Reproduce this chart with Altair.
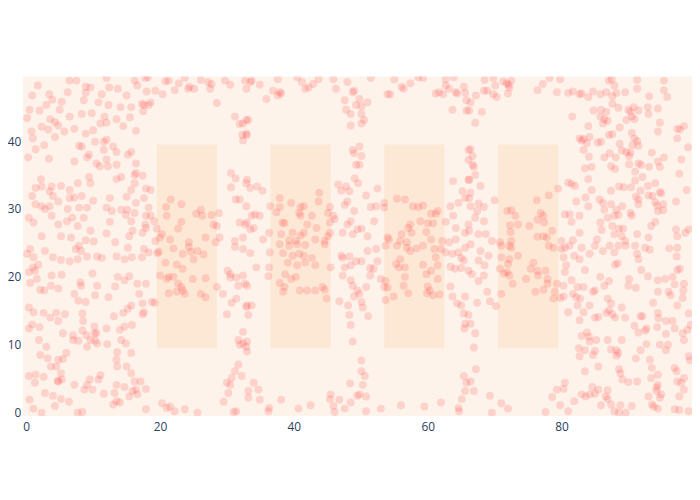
import altair as alt
import pandas as pd

# shaded rectangles
rect_x0 = [19.5, 36.5, 53.5, 70.5]
rect_x1 = [28.5, 45.5, 62.5, 79.5]
rect_y0 = [9.5, 9.5, 9.5, 9.5]
rect_y1 = [39.5, 39.5, 39.5, 39.5]

x_ticks = [0, 20, 40, 60, 80]
y_ticks = [0, 10, 20, 30, 40]

# scatter points
pts_a_top = [
    (1.75, 48.2), (6.46, 48.9), (7.5, 48.9), (8.9, 48.0), (9.6, 47.9), (12.0, 49.3), (16.2, 48.9),
    (0.9, 46.7), (3.45, 46.9), (6.2, 47.2), (8.9, 47.1), (11.3, 46.9), (12.4, 47.9), (13.7, 47.7),
    (15.0, 46.7), (3.9, 46.1), (5.3, 45.8), (8.6, 46.0), (3.0, 45.3), (12.3, 45.3), (10.8, 45.7),
    (14.1, 45.0), (15.7, 45.0), (0.5, 44.6), (2.0, 44.5), (5.0, 44.6), (0.15, 43.4), (6.5, 43.6),
    (8.3, 44.0), (9.8, 44.1), (11.7, 43.6), (3.6, 43.2), (4.3, 42.8), (13.5, 43.2), (15.5, 43.5),
    (11.1, 42.6), (12.0, 42.7), (14.5, 42.2), (2.3, 42.1), (3.3, 41.7), (4.8, 42.3), (5.7, 41.4),
    (7.2, 41.8), (0.8, 41.4), (1.0, 40.4), (4.3, 40.6), (8.9, 41.1), (10.0, 41.6), (11.6, 39.9),
    (12.0, 40.2), (13.0, 39.2), (7.9, 39.3), (8.3, 39.2), (10.3, 39.9), (9.4, 38.0), (11.6, 38.7),
    (1.4, 38.8), (2.7, 39.4), (13.5, 38.4), (15.7, 38.4), (0.3, 37.6), (3.4, 37.4), (7.2, 37.0),
    (9.1, 37.6), (10.5, 36.7), (11.0, 36.3), (12.2, 36.3), (12.0, 37.3), (13.5, 36.5), (15.2, 38.0),
    (2.2, 34.4), (9.4, 34.7), (9.6, 33.8), (7.7, 33.8), (13.5, 34.4), (14.2, 34.7), (16.2, 35.0),
    (1.4, 33.1), (2.3, 33.3), (3.8, 33.3), (5.2, 33.4), (6.5, 32.8), (3.5, 32.6), (0.9, 31.9),
    (4.0, 31.9), (6.5, 31.6), (7.2, 31.7), (8.3, 31.9), (10.0, 31.2), (12.5, 31.6), (15.0, 31.8),
    (15.7, 32.8), (16.2, 33.8), (1.4, 30.7), (2.3, 30.4), (2.8, 30.0), (3.5, 30.4), (4.8, 31.1),
    (6.2, 30.0), (7.9, 30.2), (9.1, 30.2), (12.0, 30.2), (12.8, 29.7), (14.2, 29.9), (15.1, 29.9),
    (16.2, 29.4), (0.4, 28.7), (3.8, 29.0), (6.9, 28.7), (8.6, 28.7), (12.5, 28.1), (15.7, 28.2),
    (14.9, 29.1), (1.1, 28.0), (4.8, 27.7), (6.1, 28.2), (7.7, 27.5), (9.6, 26.8), (12.0, 26.4),
    (2.3, 26.0), (5.2, 26.0), (6.7, 25.8), (8.9, 25.4), (10.1, 25.2), (13.3, 25.1), (15.4, 26.0),
    (15.9, 26.8),
]

pts_a_bottom = [
    (0.15, 23.4), (0.6, 24.1), (1.1, 22.9), (2.8, 23.8), (4.0, 22.9), (5.2, 22.5), (6.5, 22.3),
    (7.7, 22.6), (7.4, 24.1), (8.2, 23.8), (9.1, 23.0), (7.9, 24.6), (10.6, 23.0), (11.3, 22.8),
    (13.5, 23.0), (14.7, 22.6), (15.8, 22.9), (15.2, 24.3), (1.0, 21.4), (1.8, 21.8), (0.4, 20.7),
    (1.3, 20.9), (1.6, 19.7), (0.6, 19.1), (2.1, 18.1), (2.7, 18.0), (3.8, 20.2), (3.7, 18.7),
    (4.8, 18.3), (5.3, 20.3), (8.1, 19.2), (8.2, 18.7), (9.9, 20.5), (10.6, 18.7), (12.3, 17.0),
    (10.3, 17.3), (7.2, 17.5), (7.8, 16.5), (8.9, 16.3), (13.7, 20.0), (14.7, 19.5), (15.4, 20.1),
    (13.3, 18.6), (0.4, 15.5), (1.1, 14.8), (2.6, 14.7), (3.6, 14.0), (4.5, 14.7), (4.8, 13.5),
    (5.8, 14.5), (8.4, 14.6), (8.5, 13.5), (10.2, 12.7), (10.5, 11.7), (12.0, 12.4), (13.1, 14.2),
    (14.5, 14.7), (15.7, 15.8), (15.2, 15.3), (14.7, 12.7), (15.8, 12.9), (0.4, 12.4), (0.9, 13.0),
    (2.0, 12.6), (1.9, 10.7), (3.0, 9.7), (5.5, 11.7), (7.0, 11.4), (7.0, 10.7), (7.8, 10.6),
    (8.4, 12.1), (9.0, 11.4), (9.1, 9.7), (9.6, 10.7), (10.2, 11.7), (10.3, 10.6), (10.6, 10.2),
    (12.1, 10.1), (14.0, 12.2), (14.2, 10.7), (14.9, 10.2), (15.7, 8.8), (2.1, 8.5), (3.2, 8.0),
    (4.8, 7.8), (6.0, 8.8), (5.5, 7.9), (3.7, 6.8), (4.5, 6.8), (5.2, 5.8), (5.3, 4.9), (4.7, 4.7),
    (13.6, 8.9), (13.5, 7.8), (13.6, 6.8), (15.0, 6.8), (0.4, 5.4), (1.4, 5.6), (1.3, 4.4),
    (2.6, 5.3), (2.8, 2.9), (4.0, 2.5), (5.2, 2.0), (4.8, 4.6), (7.2, 4.1), (8.7, 3.4), (9.5, 4.9),
    (9.1, 4.1), (9.9, 3.4), (10.8, 4.9), (11.1, 5.5), (11.6, 2.8), (13.2, 2.9), (13.5, 4.1),
    (14.7, 3.8), (15.9, 3.2), (16.2, 4.6), (15.7, 5.8), (0.5, 1.9), (1.1, 0.6), (2.3, 0.0),
    (4.3, 1.0), (6.4, 1.6), (7.7, 0.0), (8.4, 0.1), (13.0, 1.2), (13.5, 1.7), (14.0, 1.5),
    (15.4, 2.4),
]

pts_b_top = [
    (16.6, 48.2), (17.8, 49.3), (18.2, 49.4), (20.8, 48.8), (21.3, 48.9), (22.8, 48.5), (23.7, 49.3),
    (24.4, 48.0), (24.2, 47.7), (25.1, 47.7), (26.1, 49.0), (27.2, 48.7), (27.7, 48.4), (27.5, 47.7),
    (29.7, 48.9), (30.5, 48.3), (32.7, 48.9), (32.9, 47.7), (18.0, 47.3), (19.3, 47.4), (20.4, 46.9),
    (22.2, 47.5), (17.3, 45.5), (17.6, 45.3), (18.6, 45.7), (18.3, 45.3), (17.5, 44.4), (28.5, 45.6),
    (31.2, 43.6), (31.9, 42.5), (32.4, 42.6), (32.9, 43.1), (32.3, 40.9), (32.4, 40.1), (32.9, 41.1),
    (16.4, 41.5), (16.4, 36.7), (16.4, 35.3), (17.4, 34.9), (17.9, 33.0), (18.6, 32.8), (17.6, 31.6),
    (16.4, 30.9), (18.3, 30.2), (18.6, 29.0), (17.9, 29.0), (19.1, 28.2), (17.8, 27.7), (17.9, 27.2),
    (19.5, 27.1), (17.4, 26.5), (20.3, 26.3), (20.0, 25.8), (21.5, 25.5), (19.3, 25.3), (21.6, 31.4),
    (20.9, 30.3), (23.2, 30.7), (21.0, 29.0), (26.1, 29.9), (25.4, 29.3), (26.3, 29.0), (27.7, 29.1),
    (28.8, 29.4), (23.2, 28.1), (22.7, 27.1), (28.0, 27.7), (28.5, 27.5), (26.8, 25.8), (28.9, 25.8),
    (24.3, 25.1), (28.3, 25.1), (30.6, 35.3), (31.3, 34.5), (30.6, 33.2), (32.9, 33.8), (31.3, 31.4),
    (31.9, 31.4), (32.9, 30.4), (31.9, 28.0), (32.7, 27.7), (31.2, 25.3), (32.4, 25.8),
]

pts_b_bottom = [
    (17.3, 22.9), (17.6, 24.1), (18.3, 23.6), (19.6, 23.5), (19.8, 23.7), (22.0, 24.2), (20.8, 22.1),
    (22.5, 21.8), (23.4, 21.2), (23.4, 23.4), (24.3, 24.4), (24.6, 23.7), (25.0, 22.6), (25.6, 23.8),
    (26.5, 23.3), (20.0, 20.2), (21.3, 20.0), (22.0, 20.0), (21.0, 19.7), (22.7, 19.0), (23.2, 18.5),
    (23.7, 17.5), (23.4, 18.0), (24.9, 19.7), (26.8, 19.8), (21.3, 17.6), (22.5, 17.8), (26.1, 17.5),
    (26.8, 17.0), (16.6, 19.0), (17.9, 19.0), (16.9, 17.5), (17.4, 16.1), (17.6, 14.8), (17.4, 14.5),
    (18.8, 16.3), (19.2, 16.2), (31.2, 24.4), (32.4, 24.1), (30.1, 20.9), (30.5, 20.4), (30.5, 19.9),
    (31.4, 19.9), (31.7, 18.7), (32.7, 19.0), (32.4, 20.2), (28.5, 18.5), (29.4, 17.5), (31.4, 16.8),
    (30.7, 16.2), (30.0, 14.5), (32.9, 15.6), (32.4, 11.9), (31.7, 10.7), (31.9, 10.0), (32.4, 10.2),
    (32.9, 9.7), (31.7, 7.1), (31.2, 6.1), (32.2, 5.4), (30.7, 5.1), (30.0, 4.4), (30.5, 4.1),
    (30.2, 2.9), (29.5, 1.6), (31.4, 0.2), (31.0, 0.1), (17.1, 4.6), (17.9, 3.5), (16.4, 3.4),
    (16.6, 2.7), (17.9, 0.5), (20.3, 1.4), (21.0, 0.7), (21.5, 0.9), (22.2, 0.2), (23.7, 0.5),
    (25.6, 0.0),
]

pts_c_top = [
    (33.5, 48.7), (33.7, 48.9), (34.9, 48.3), (37.6, 49.1), (37.9, 47.2), (37.6, 46.7), (38.1, 47.0),
    (36.9, 47.4), (35.9, 46.2), (40.5, 49.4), (41.2, 48.7), (41.7, 47.7), (42.2, 47.9), (42.9, 48.4),
    (43.7, 49.1), (45.9, 49.1), (46.3, 47.7), (48.0, 48.7), (48.8, 47.2), (49.0, 47.4), (47.6, 46.0),
    (47.8, 44.6), (48.5, 44.0), (49.3, 45.3), (48.5, 42.3), (33.2, 43.1), (33.0, 40.9), (33.0, 34.3),
    (33.5, 33.1), (34.5, 33.3), (35.3, 32.7), (48.8, 38.7), (49.0, 38.2), (49.3, 36.5), (49.1, 34.5),
    (46.6, 33.6), (47.1, 32.7), (47.8, 33.3), (48.3, 32.6), (48.0, 31.1), (47.6, 30.6), (49.0, 29.7),
    (48.0, 27.7), (49.5, 27.0), (48.5, 28.2), (48.8, 26.3), (47.3, 26.5), (37.9, 31.6), (36.5, 30.4),
    (37.9, 30.3), (37.4, 29.5), (39.6, 30.9), (41.0, 30.3), (41.5, 30.4), (40.8, 29.4), (41.0, 29.0),
    (42.7, 29.0), (43.8, 32.4), (43.7, 31.1), (45.4, 30.3), (45.1, 29.4), (45.9, 29.0), (46.1, 28.5),
    (45.4, 28.0), (42.0, 27.7), (38.3, 28.0), (38.6, 27.9), (43.4, 27.2), (41.5, 26.5), (41.0, 26.1),
    (39.8, 26.5), (38.1, 26.3), (39.3, 25.4), (40.3, 25.3), (43.2, 25.5), (45.4, 26.5), (45.1, 26.0),
    (44.6, 25.3), (33.7, 29.0), (34.2, 29.2), (34.9, 29.0), (33.0, 28.0), (34.0, 27.2), (33.5, 27.0),
    (36.3, 26.5), (35.4, 25.5),
]

pts_c_bottom = [
    (37.9, 24.8), (39.3, 24.6), (40.5, 24.8), (41.7, 24.7), (44.6, 24.8), (38.4, 23.5), (39.8, 23.1),
    (40.8, 23.4), (41.5, 23.1), (42.7, 22.8), (39.1, 22.1), (40.5, 21.7), (41.7, 22.1), (43.2, 21.7),
    (38.7, 20.4), (39.6, 19.7), (40.3, 20.0), (37.9, 19.1), (38.6, 18.5), (38.4, 17.8), (40.9, 18.0),
    (42.0, 18.0), (43.2, 18.0), (44.3, 18.5), (44.6, 18.1), (44.9, 16.8), (33.5, 23.5), (34.4, 21.4),
    (36.3, 21.4), (36.2, 20.1), (36.4, 23.6), (33.0, 18.7), (33.7, 15.8), (33.0, 15.8), (33.2, 14.4),
    (33.0, 10.5), (33.0, 9.0), (34.0, 4.4), (34.7, 3.4), (34.9, 1.9), (33.2, 3.2), (33.2, 2.2),
    (36.3, 0.7), (36.2, 0.2), (38.1, 1.9), (40.7, 0.6), (42.5, 1.1), (45.5, 21.4), (47.1, 23.1),
    (47.3, 22.8), (48.3, 23.0), (47.6, 21.4), (48.5, 21.7), (49.3, 22.3), (47.3, 20.2), (48.5, 19.5),
    (48.8, 18.7), (49.5, 18.0), (49.0, 17.1), (46.8, 16.4), (48.1, 15.8), (48.3, 14.4), (48.5, 12.9),
    (48.8, 10.5), (48.4, 4.3), (49.5, 2.5), (48.5, 1.5), (45.5, 2.7), (45.4, 2.0), (46.8, 1.9),
    (45.9, 1.0), (46.1, 0.1), (47.6, 0.6),
]

pts_d_top = [
    (51.5, 49.3), (55.0, 49.1), (56.1, 48.0), (56.4, 47.7), (57.4, 48.5), (58.6, 49.4), (59.3, 49.3),
    (62.7, 49.1), (63.9, 49.4), (54.0, 46.9), (54.4, 46.9), (61.2, 47.0), (61.7, 47.2), (62.3, 46.9),
    (62.7, 48.2), (63.2, 47.7), (64.2, 47.2), (64.4, 47.0), (65.4, 48.0), (65.6, 47.1), (63.7, 44.6),
    (65.8, 44.5), (65.8, 46.0), (49.8, 46.2), (50.1, 45.1), (51.0, 45.7), (50.1, 44.0), (50.5, 43.1),
    (50.1, 42.6), (49.8, 39.2), (50.1, 37.8), (49.8, 36.5), (49.6, 33.8), (66.1, 38.7), (66.1, 37.2),
    (63.8, 34.1), (66.1, 34.3), (65.2, 32.6), (65.6, 31.6), (64.6, 30.9), (63.4, 30.4), (63.8, 29.0),
    (64.2, 27.2), (65.6, 26.5), (66.1, 27.7), (50.8, 32.0), (52.5, 33.0), (51.5, 30.3), (52.3, 30.4),
    (53.5, 30.9), (53.5, 30.2), (52.0, 28.2), (51.0, 26.0), (50.1, 27.1), (55.4, 31.5), (56.6, 31.4),
    (57.8, 30.4), (58.6, 30.3), (59.3, 30.5), (60.5, 29.3), (61.2, 29.3), (61.5, 29.7), (62.7, 28.1),
    (58.9, 28.2), (60.0, 27.9), (60.8, 27.9), (57.4, 27.7), (57.1, 27.2), (57.6, 26.5), (56.1, 26.3),
    (59.8, 26.6), (54.0, 25.8), (54.2, 25.5), (55.9, 25.3), (56.9, 25.1), (60.5, 25.5), (62.2, 25.3),
    (63.2, 25.1), (64.2, 25.5),
]

pts_d_bottom = [
    (53.7, 24.6), (55.4, 24.6), (56.9, 24.3), (57.4, 23.8), (58.3, 24.2), (59.3, 24.6), (61.0, 24.1),
    (62.0, 24.1), (61.2, 22.9), (61.5, 21.7), (55.9, 22.6), (55.3, 21.9), (55.7, 21.4), (56.6, 21.4),
    (59.3, 21.8), (59.8, 20.4), (60.5, 20.9), (61.5, 19.7), (56.6, 20.0), (56.4, 18.7), (57.1, 17.6),
    (60.0, 18.6), (60.3, 18.0), (60.8, 17.3), (59.9, 17.6), (61.8, 17.4), (53.7, 19.4), (53.5, 18.5),
    (54.0, 18.4), (53.0, 19.7), (54.9, 17.1), (53.7, 16.6), (50.1, 22.3), (52.5, 22.3), (51.4, 21.3),
    (51.9, 21.2), (51.4, 20.2), (52.3, 24.1), (51.0, 23.8), (50.8, 18.5), (49.8, 17.5), (50.1, 16.3),
    (50.3, 15.5), (51.1, 14.2), (62.7, 23.6), (63.7, 23.4), (64.6, 23.6), (65.6, 24.3), (65.0, 22.8),
    (63.4, 21.5), (64.1, 21.2), (65.0, 21.3), (65.4, 22.4), (66.1, 20.9), (63.4, 18.6), (63.7, 17.1),
    (64.4, 16.1), (65.0, 15.8), (65.6, 17.1), (65.4, 14.6), (66.1, 14.4), (65.6, 13.1), (65.5, 12.4),
    (50.1, 7.7), (50.1, 6.1), (50.6, 5.4), (50.3, 4.1), (49.8, 2.7), (50.8, 2.4), (50.8, 0.2),
    (53.0, 0.6), (56.0, 1.1), (59.5, 0.9), (62.0, 1.5), (65.4, 5.4), (65.8, 4.4), (65.6, 3.2),
    (65.1, 2.0), (64.6, 0.7), (64.7, 0.2),
]

pts_e_top = [
    (68.5, 49.0), (69.8, 49.3), (70.1, 48.2), (71.3, 48.8), (71.8, 48.5), (72.1, 48.3), (72.5, 48.9),
    (72.2, 47.9), (72.0, 47.0), (68.4, 47.4), (68.9, 47.4), (67.2, 46.7), (69.8, 46.9), (70.3, 46.5),
    (76.4, 47.5), (77.2, 48.4), (78.2, 49.3), (79.3, 47.2), (79.8, 49.1), (81.0, 47.1), (81.7, 47.3),
    (82.7, 46.9), (66.4, 45.7), (66.2, 44.5), (68.1, 44.3), (67.1, 42.7), (81.6, 43.6), (82.7, 40.4),
    (66.4, 38.8), (66.7, 37.8), (66.7, 36.5), (66.9, 36.2), (67.1, 35.0), (66.2, 34.3), (67.9, 33.4),
    (66.4, 32.4), (66.2, 31.6), (66.4, 30.4), (67.6, 30.8), (68.4, 30.3), (67.4, 29.7), (67.1, 28.7),
    (68.4, 28.2), (66.2, 26.8), (67.6, 26.3), (68.7, 26.3), (69.6, 25.3), (70.0, 31.3), (76.3, 31.3),
    (78.1, 32.0), (79.5, 33.0), (71.9, 29.7), (72.5, 29.8), (73.1, 29.0), (76.9, 29.4), (77.3, 29.0),
    (76.4, 28.4), (77.4, 28.0), (73.5, 27.7), (72.3, 27.6), (72.4, 26.6), (75.2, 27.5), (72.5, 25.3),
    (76.4, 25.9), (77.3, 26.0), (78.6, 26.8), (77.8, 25.8), (70.8, 25.1), (81.0, 33.9), (81.5, 33.7),
    (82.0, 33.4), (82.2, 31.1), (80.5, 29.2), (81.2, 29.2), (81.5, 28.1), (82.7, 29.0), (80.0, 25.3),
    (81.7, 25.4), (82.7, 26.5),
]

pts_e_bottom = [
    (71.0, 24.6), (72.2, 24.6), (72.5, 24.3), (71.0, 22.9), (72.2, 22.6), (72.0, 21.9), (73.5, 23.1),
    (70.8, 21.2), (71.4, 20.5), (71.9, 20.7), (72.2, 20.2), (72.7, 19.0), (74.7, 19.7), (75.8, 22.1),
    (75.4, 21.2), (76.4, 20.9), (76.5, 20.2), (77.6, 20.9), (77.9, 19.7), (77.9, 19.0), (79.3, 19.0),
    (76.1, 17.8), (77.3, 18.1), (78.8, 16.8), (79.0, 17.8), (78.1, 24.6), (78.8, 24.3), (66.4, 24.8),
    (67.9, 23.8), (69.1, 23.1), (67.6, 22.4), (68.5, 21.7), (66.6, 20.4), (68.4, 20.2), (67.6, 19.4),
    (68.9, 17.8), (69.3, 16.4), (67.4, 16.2), (70.2, 15.7), (71.0, 17.5), (66.4, 13.1), (67.1, 11.7),
    (66.9, 9.6), (67.2, 6.4), (66.4, 4.6), (66.9, 3.2), (80.0, 24.1), (80.5, 24.3), (81.2, 24.6),
    (80.3, 22.9), (80.7, 21.7), (81.9, 23.1), (82.7, 22.6), (80.5, 20.7), (81.5, 19.5), (80.3, 18.7),
    (82.4, 18.5), (81.7, 17.5), (80.3, 17.1), (79.8, 16.9), (82.2, 17.0), (82.4, 15.8), (82.7, 13.6),
    (81.0, 14.8), (82.6, 9.5), (82.7, 8.3), (80.5, 4.4), (80.3, 3.5), (79.3, 3.4), (78.6, 2.3),
    (79.8, 1.1), (81.0, 0.2), (81.9, 1.7), (69.3, 2.5), (71.0, 1.4), (72.0, 0.6), (69.6, 0.0),
    (77.6, 0.1),
]

pts_f_top = [
    (87.05, 48.9), (87.5, 49.1), (91.3, 49.0), (95.3, 48.9), (83.0, 47.0), (84.0, 46.5), (84.7, 47.3),
    (85.8, 46.9), (86.7, 47.2), (87.9, 48.2), (88.2, 47.1), (87.6, 46.6), (89.5, 47.2), (91.3, 47.7),
    (93.1, 46.6), (95.3, 47.5), (95.8, 46.5), (84.8, 44.5), (85.9, 44.6), (86.7, 44.3), (86.4, 43.2),
    (86.2, 42.6), (86.9, 43.0), (85.8, 43.6), (87.6, 45.5), (88.5, 44.9), (90.0, 44.6), (90.3, 44.3),
    (90.8, 45.0), (90.5, 43.6), (91.5, 44.5), (92.9, 45.0), (93.0, 44.0), (94.4, 44.8), (89.7, 43.1),
    (90.9, 43.2), (94.7, 42.7), (94.4, 41.4), (97.3, 41.8), (97.7, 41.7), (98.3, 42.2), (97.3, 40.4),
    (98.9, 39.1), (84.0, 42.2), (83.0, 40.1), (83.3, 40.3), (84.2, 40.6), (83.8, 39.7), (85.4, 39.8),
    (85.9, 39.9), (87.1, 40.9), (87.6, 41.0), (88.7, 42.0), (88.7, 39.6), (90.5, 41.2), (90.9, 40.4),
    (91.3, 40.0), (90.6, 39.4), (91.5, 39.3), (90.3, 38.3), (89.0, 38.6), (89.7, 38.4), (90.1, 37.8),
    (88.1, 37.6), (86.4, 37.6), (87.2, 38.2), (83.3, 38.7), (84.1, 37.7), (93.5, 38.3), (95.3, 37.6),
    (94.4, 37.0), (94.7, 36.2), (93.1, 36.2), (91.5, 36.7), (91.9, 36.5), (91.0, 35.5), (91.0, 34.2),
    (92.1, 34.7), (90.1, 36.6), (87.4, 36.3), (88.0, 35.9), (83.5, 36.0), (84.5, 36.2), (84.0, 34.4),
    (84.5, 32.8), (87.4, 32.7), (88.6, 33.3), (89.3, 33.2), (90.4, 33.2), (91.8, 32.7), (92.9, 33.4),
    (94.0, 33.8), (93.6, 31.9), (94.7, 32.5), (94.9, 32.3), (97.9, 37.3), (97.6, 35.2), (98.7, 32.8),
    (97.1, 31.1), (83.6, 31.7), (84.0, 30.4), (85.7, 31.4), (86.2, 30.9), (86.4, 29.9), (87.4, 30.7),
    (88.2, 29.9), (89.1, 30.4), (88.5, 29.1), (87.9, 29.0), (86.9, 28.7), (90.3, 29.4), (91.1, 31.8),
    (91.5, 31.4), (91.5, 30.7), (93.0, 32.0), (94.0, 31.0), (94.3, 30.5), (95.2, 30.7), (94.4, 29.7),
    (95.2, 29.8), (93.4, 27.5), (94.0, 28.1), (90.5, 29.0), (85.8, 28.0), (86.0, 26.9), (87.6, 27.5),
    (87.9, 26.3), (88.6, 27.1), (89.2, 27.1), (89.0, 26.0), (89.5, 25.3), (91.3, 26.3), (93.0, 25.8),
    (85.3, 25.5), (97.1, 27.0), (97.3, 26.0), (98.5, 26.5), (99.0, 27.0),
]

pts_f_bottom = [
    (83.0, 24.3), (84.2, 23.4), (85.0, 24.6), (86.2, 23.8), (87.2, 24.6), (87.9, 23.6), (88.5, 24.6),
    (89.6, 24.6), (91.0, 24.6), (91.3, 23.4), (91.5, 22.6), (92.5, 24.3), (93.2, 24.0), (96.1, 24.2),
    (97.3, 24.3), (97.2, 23.0), (88.0, 21.8), (88.4, 22.0), (83.5, 21.0), (91.9, 21.0), (92.9, 20.1),
    (94.4, 19.5), (95.5, 19.7), (96.6, 20.0), (97.3, 21.0), (97.7, 21.2), (96.9, 18.9), (98.3, 19.0),
    (98.2, 18.0), (85.8, 20.0), (86.4, 18.7), (87.1, 19.4), (90.1, 19.7), (90.0, 18.7), (91.1, 18.4),
    (85.0, 18.0), (84.7, 17.8), (83.3, 18.5), (82.8, 16.8), (94.4, 17.8), (96.0, 17.8), (96.3, 17.3),
    (98.1, 16.9), (97.3, 15.8), (93.7, 16.2), (86.9, 16.8), (87.4, 16.1), (89.0, 15.5), (87.1, 15.1),
    (86.7, 14.7), (87.6, 14.5), (88.0, 14.0), (89.5, 14.0), (84.2, 15.8), (83.3, 14.8), (85.0, 14.0),
    (85.5, 14.1), (91.8, 14.2), (92.1, 14.2), (94.4, 14.7), (94.5, 13.9), (95.6, 13.5), (96.6, 13.5),
    (96.9, 12.4), (98.1, 11.7), (98.3, 10.7), (99.0, 14.6), (98.8, 12.2), (99.3, 12.9), (90.9, 12.8),
    (91.5, 11.8), (92.5, 12.1), (92.7, 12.4), (94.3, 12.6), (95.6, 11.6), (83.8, 11.8), (83.0, 11.3),
    (84.1, 11.2), (84.2, 10.5), (85.2, 10.7), (83.5, 9.2), (85.0, 9.1), (84.7, 8.5), (86.9, 10.7),
    (89.0, 10.7), (87.4, 9.3), (88.2, 9.2), (88.2, 8.4), (88.5, 8.8), (91.8, 9.2), (92.7, 10.1),
    (94.7, 10.0), (95.9, 10.0), (95.6, 9.2), (91.1, 8.0), (93.2, 7.8), (93.5, 6.6), (83.5, 6.1),
    (85.5, 6.8), (88.6, 6.4), (88.8, 5.8), (89.1, 4.9), (90.0, 4.5), (91.3, 4.6), (93.4, 5.1),
    (94.4, 5.6), (94.4, 4.1), (94.2, 3.7), (94.2, 3.2), (94.7, 2.2), (94.9, 2.7), (96.9, 6.6),
    (97.2, 6.1), (97.3, 4.6), (97.9, 4.4), (98.3, 5.1), (98.3, 3.4), (97.6, 2.4), (99.0, 8.3),
    (99.2, 7.7), (83.0, 2.7), (83.6, 2.4), (84.6, 3.8), (85.5, 3.4), (85.0, 2.8), (84.2, 2.7),
    (86.9, 3.3), (86.6, 2.4), (86.9, 2.0), (85.9, 1.1), (87.4, 1.2), (88.8, 1.1), (87.9, 0.2),
    (88.6, 0.0), (89.6, 0.0), (90.5, 1.0), (93.0, 2.4), (93.5, 1.2), (93.8, 0.9), (94.4, 0.6),
    (96.9, 0.5), (97.6, 0.4), (99.0, 0.2),
]

all_pts = (pts_a_top + pts_a_bottom + pts_b_top + pts_b_bottom + pts_c_top + pts_c_bottom
           + pts_d_top + pts_d_bottom + pts_e_top + pts_e_bottom + pts_f_top + pts_f_bottom)
points = pd.DataFrame(all_pts, columns=["x", "y"])
rects = pd.DataFrame({"x0": rect_x0, "x1": rect_x1, "y0": rect_y0, "y1": rect_y1})

x_scale = alt.Scale(domain=[-0.5, 99.5], nice=False, zero=False)
y_scale = alt.Scale(domain=[-0.5, 49.5], nice=False, zero=False)

shapes = alt.Chart(rects).mark_rect(color="#fde8d6").encode(
    x=alt.X("x0:Q", scale=x_scale, title="",
            axis=alt.Axis(values=x_ticks, labelPadding=6)),
    x2="x1:Q",
    y=alt.Y("y0:Q", scale=y_scale, title="",
            axis=alt.Axis(values=y_ticks, labelPadding=2)),
    y2="y1:Q",
)

dots = alt.Chart(points).mark_circle(size=64, color="#ff1a1a", opacity=0.15, clip=True).encode(
    x="x:Q",
    y="y:Q",
)

chart = alt.layer(shapes, dots).properties(
    width=676,
    height=343,
    padding={"left": 15, "top": 67, "right": 0, "bottom": 30},
    autosize=alt.AutoSizeParams(type="none"),
).configure_view(
    fill="#fdf3ea",
    stroke=None,
).configure_axis(
    grid=False,
    domain=False,
    ticks=False,
    labelFont="Open Sans",
    labelFontSize=12,
    labelColor="#2a3f5f",
)

chart.save("out.html", embed_options={"renderer": "svg", "actions": False})
